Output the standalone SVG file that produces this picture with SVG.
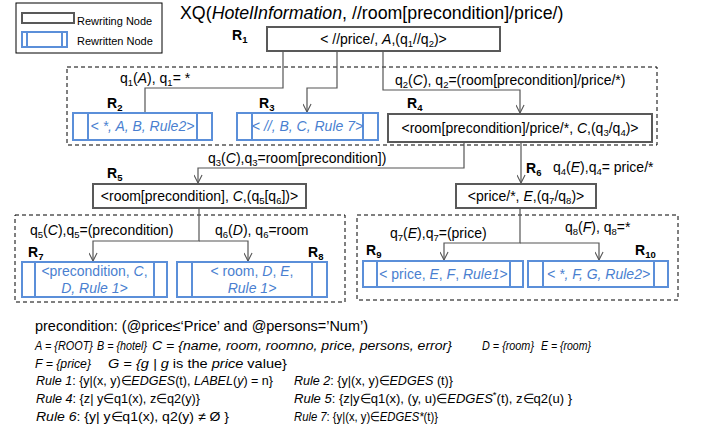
<svg xmlns="http://www.w3.org/2000/svg" width="701" height="437" viewBox="0 0 701 437">
<defs>
<style>
text { font-family: "Liberation Sans", Arial, sans-serif; font-size: 14px; fill: #000; }
.it { font-style: italic; }
.b { font-weight: bold; }
.blue { fill: #4a7fd0; }
.s { font-size: 9.5px; }
.lbl { font-size: 14px; font-weight: bold; }
.lg { font-size: 11px; }
.ti { font-size: 17.8px; }
.df { font-size: 14.4px; }
.dc { font-size: 13.5px; }
.rl { font-size: 13px; }
.node { fill: #fff; stroke: #595959; stroke-width: 2; }
.rw { fill: #fff; stroke: #5b8fd9; stroke-width: 2; }
.rwl { stroke: #5b8fd9; stroke-width: 2; }
.dash { fill: none; stroke: #000; stroke-width: 1; stroke-dasharray: 4 3; }
.conn { fill: none; stroke: #555; stroke-width: 1.2; }
</style>
<marker id="arr" viewBox="0 0 10 10" refX="10" refY="5" markerWidth="9" markerHeight="9" orient="auto" markerUnits="userSpaceOnUse">
<path d="M1,0.5 L10,5 L1,9.5" fill="none" stroke="#555" stroke-width="1.2"/>
</marker>
</defs>
<rect width="701" height="437" fill="#fff"/>

<g id="legend">
<rect x="16" y="3" width="146" height="50" fill="#fff" stroke="#000" stroke-width="1"/>
<rect x="22" y="13" width="52" height="10" class="node"/>
<text x="77" y="25" class="lg">Rewriting Node</text>
<rect x="22" y="32" width="45" height="15" class="rw"/>
<line x1="27" y1="32" x2="27" y2="47" class="rwl"/>
<line x1="62" y1="32" x2="62" y2="47" class="rwl"/>
<text x="77" y="45" class="lg">Rewritten Node</text>
</g>

<text x="180" y="19" class="ti">XQ(<tspan class="it">HotelInformation</tspan>, //room[precondition]/price/)</text>

<g id="groups">
<rect x="67" y="67" width="590" height="78" class="dash"/>
<rect x="15" y="215" width="330" height="87" class="dash"/>
<rect x="357" y="215" width="321" height="85" class="dash"/>
</g>

<g id="connectors">
<path d="M283,52 V88 H145 V113" class="conn"/>
<path d="M337,52 V88 H307 V112" class="conn" marker-end="url(#arr)"/>
<path d="M383,52 V90 H520 V113" class="conn" marker-end="url(#arr)"/>
<path d="M464,143 V168 H198 V183" class="conn" marker-end="url(#arr)"/>
<path d="M521,143 V183" class="conn" marker-end="url(#arr)"/>
<path d="M199,209 V241 H93 V261" class="conn" marker-end="url(#arr)"/>
<path d="M199,241 H248 V261" class="conn" marker-end="url(#arr)"/>
<path d="M520,209 V243 H444 V260" class="conn" marker-end="url(#arr)"/>
<path d="M520,243 H599 V260" class="conn" marker-end="url(#arr)"/>
</g>

<g id="edge-labels">
<text x="120" y="83">q<tspan class="s" dy="3">1</tspan><tspan dy="-3">(</tspan><tspan class="it">A</tspan>),  q<tspan class="s" dy="3">1</tspan><tspan dy="-3">= *</tspan></text>
<text x="395" y="85">q<tspan class="s" dy="3">2</tspan><tspan dy="-3">(</tspan><tspan class="it">C</tspan>), q<tspan class="s" dy="3">2</tspan><tspan dy="-3">=(room[precondition]/price/*)</tspan></text>
<text x="208" y="163">q<tspan class="s" dy="3">3</tspan><tspan dy="-3">(</tspan><tspan class="it">C</tspan>),q<tspan class="s" dy="3">3</tspan><tspan dy="-3">=room[precondition])</tspan></text>
<text x="553" y="172">q<tspan class="s" dy="3">4</tspan><tspan dy="-3">(</tspan><tspan class="it">E</tspan>),q<tspan class="s" dy="3">4</tspan><tspan dy="-3">= price/*</tspan></text>
<text x="30" y="235">q<tspan class="s" dy="3">5</tspan><tspan dy="-3">(</tspan><tspan class="it">C</tspan>),q<tspan class="s" dy="3">5</tspan><tspan dy="-3">=(precondition)</tspan></text>
<text x="215" y="235">q<tspan class="s" dy="3">6</tspan><tspan dy="-3">(</tspan><tspan class="it">D</tspan>), q<tspan class="s" dy="3">6</tspan><tspan dy="-3">=room</tspan></text>
<text x="390" y="238">q<tspan class="s" dy="3">7</tspan><tspan dy="-3">(</tspan><tspan class="it">E</tspan>),q<tspan class="s" dy="3">7</tspan><tspan dy="-3">=(price)</tspan></text>
<text x="565" y="232">q<tspan class="s" dy="3">8</tspan><tspan dy="-3">(</tspan><tspan class="it">F</tspan>), q<tspan class="s" dy="3">8</tspan><tspan dy="-3">=*</tspan></text>
</g>

<g id="R1">
<text x="232" y="40" class="lbl">R<tspan class="s" dy="3">1</tspan></text>
<rect x="267" y="27" width="233" height="24" class="node"/>
<text x="383.5" y="44" text-anchor="middle">&lt; //price/, <tspan class="it">A</tspan>,(q<tspan class="s" dy="3">1</tspan><tspan dy="-3">//q</tspan><tspan class="s" dy="3">2</tspan><tspan dy="-3">)&gt;</tspan></text>
</g>

<g id="R2">
<text x="107" y="108" class="lbl">R<tspan class="s" dy="3">2</tspan></text>
<rect x="73" y="113" width="139" height="27" class="rw"/>
<line x1="88" y1="113" x2="88" y2="140" class="rwl"/>
<line x1="197" y1="113" x2="197" y2="140" class="rwl"/>
<text x="142.5" y="131" text-anchor="middle" class="blue it">&lt; *, A, B, Rule2&gt;</text>
</g>

<g id="R3">
<text x="259" y="108" class="lbl">R<tspan class="s" dy="3">3</tspan></text>
<rect x="237" y="113" width="141" height="27" class="rw"/>
<line x1="252" y1="113" x2="252" y2="140" class="rwl"/>
<line x1="363" y1="113" x2="363" y2="140" class="rwl"/>
<text x="307.5" y="131" text-anchor="middle" class="blue it">&lt; //, B, C, Rule 7&gt;</text>
</g>

<g id="R4">
<text x="407" y="108" class="lbl">R<tspan class="s" dy="3">4</tspan></text>
<rect x="388" y="114" width="264" height="28" class="node"/>
<text x="520" y="133" text-anchor="middle">&lt;room[precondition]/price/*, <tspan class="it">C</tspan>,(q<tspan class="s" dy="3">3</tspan><tspan dy="-3">/q</tspan><tspan class="s" dy="3">4</tspan><tspan dy="-3">)&gt;</tspan></text>
</g>

<g id="R5">
<text x="107" y="178" class="lbl">R<tspan class="s" dy="3">5</tspan></text>
<rect x="93" y="184" width="213" height="24" class="node"/>
<text x="199.5" y="201" text-anchor="middle">&lt;room[precondition], <tspan class="it">C</tspan>,(q<tspan class="s" dy="3">5</tspan><tspan dy="-3">[q</tspan><tspan class="s" dy="3">6</tspan><tspan dy="-3">])&gt;</tspan></text>
</g>

<g id="R6">
<text x="526" y="173" class="lbl">R<tspan class="s" dy="3">6</tspan></text>
<rect x="456" y="184" width="140" height="24" class="node"/>
<text x="526" y="201" text-anchor="middle">&lt;price/*, <tspan class="it">E</tspan>,(q<tspan class="s" dy="3">7</tspan><tspan dy="-3">/q</tspan><tspan class="s" dy="3">8</tspan><tspan dy="-3">)&gt;</tspan></text>
</g>

<g id="R7">
<text x="28" y="257" class="lbl">R<tspan class="s" dy="3">7</tspan></text>
<rect x="22" y="262" width="145" height="35" class="rw"/>
<line x1="35" y1="262" x2="35" y2="297" class="rwl"/>
<line x1="154" y1="262" x2="154" y2="297" class="rwl"/>
<text x="94.5" y="276" text-anchor="middle" class="blue">&lt;precondition, <tspan class="it">C</tspan>,</text>
<text x="94.5" y="293" text-anchor="middle" class="blue it">D, Rule 1&gt;</text>
</g>

<g id="R8">
<text x="308" y="257" class="lbl">R<tspan class="s" dy="3">8</tspan></text>
<rect x="177" y="262" width="150" height="35" class="rw"/>
<line x1="192" y1="262" x2="192" y2="297" class="rwl"/>
<line x1="312" y1="262" x2="312" y2="297" class="rwl"/>
<text x="252" y="276" text-anchor="middle" class="blue">&lt; room, <tspan class="it">D</tspan>, <tspan class="it">E</tspan>,</text>
<text x="252" y="293" text-anchor="middle" class="blue it">Rule 1&gt;</text>
</g>

<g id="R9">
<text x="366" y="255" class="lbl">R<tspan class="s" dy="3">9</tspan></text>
<rect x="363" y="261" width="160" height="26" class="rw"/>
<line x1="377" y1="261" x2="377" y2="287" class="rwl"/>
<line x1="510" y1="261" x2="510" y2="287" class="rwl"/>
<text x="443.5" y="279" text-anchor="middle" class="blue">&lt; price, <tspan class="it">E</tspan>, <tspan class="it">F</tspan>, <tspan class="it">Rule1</tspan>&gt;</text>
</g>

<g id="R10">
<text x="635" y="255" class="lbl">R<tspan class="s" dy="3">10</tspan></text>
<rect x="528" y="261" width="140" height="26" class="rw"/>
<line x1="543" y1="261" x2="543" y2="287" class="rwl"/>
<line x1="654" y1="261" x2="654" y2="287" class="rwl"/>
<text x="598.5" y="279" text-anchor="middle" class="blue it">&lt; *, F, G, Rule2&gt;</text>
</g>

<g id="notes">
<text x="35" y="331" class="df" textLength="333" lengthAdjust="spacingAndGlyphs">precondition: (@price≤‘Price’ and @persons=’Num’)</text>
<text x="35" y="350" class="dc it" textLength="58" lengthAdjust="spacingAndGlyphs">A = {ROOT}</text>
<text x="97" y="350" class="dc it" textLength="50" lengthAdjust="spacingAndGlyphs">B = {hotel}</text>
<text x="152" y="350" class="dc it" textLength="300" lengthAdjust="spacingAndGlyphs">C = {name, room, roomno, price, persons, error}</text>
<text x="482" y="350" class="dc it" textLength="52" lengthAdjust="spacingAndGlyphs">D = {room}</text>
<text x="541" y="350" class="dc it" textLength="50" lengthAdjust="spacingAndGlyphs">E = {room}</text>
<text x="35" y="368" class="dc it" textLength="56" lengthAdjust="spacingAndGlyphs">F = {price}</text>
<text x="108" y="368" class="dc" textLength="179" lengthAdjust="spacingAndGlyphs"><tspan class="it">G = {g | g</tspan> is the <tspan class="it">price</tspan> value}</text>

<text x="36" y="385" class="rl" textLength="237" lengthAdjust="spacingAndGlyphs"><tspan class="it">Rule 1</tspan>: {y|(x, y)∈<tspan class="it">EDGES</tspan>(t), <tspan class="it">LABEL</tspan>(<tspan class="it">y</tspan>) = n}</text>
<text x="294" y="385" class="rl" textLength="159" lengthAdjust="spacingAndGlyphs"><tspan class="it">Rule 2</tspan>:  {y|(x, y)∈<tspan class="it">EDGES</tspan> (t)}</text>
<text x="36" y="403" class="rl" textLength="164" lengthAdjust="spacingAndGlyphs"><tspan class="it">Rule 4</tspan>: {z| y∈q1(x), z∈q2(y)}</text>
<text x="294" y="403" class="rl" textLength="278" lengthAdjust="spacingAndGlyphs"><tspan class="it">Rule 5</tspan>:  {z|y∈q1(x), (y, u)∈<tspan class="it">EDGES</tspan><tspan class="s" dy="-5">*</tspan><tspan dy="5">(t), z∈q2(u) }</tspan></text>
<text x="36" y="421" class="rl" textLength="193" lengthAdjust="spacingAndGlyphs"><tspan class="it">Rule 6</tspan>: {y| y∈q1(x), q2(y) ≠ Ø }</text>
<text x="294" y="421" class="rl" textLength="144" lengthAdjust="spacingAndGlyphs"><tspan class="it">Rule 7</tspan>:  {y|(x, y)∈<tspan class="it">EDGES*</tspan>(t)}</text>
</g>
</svg>
